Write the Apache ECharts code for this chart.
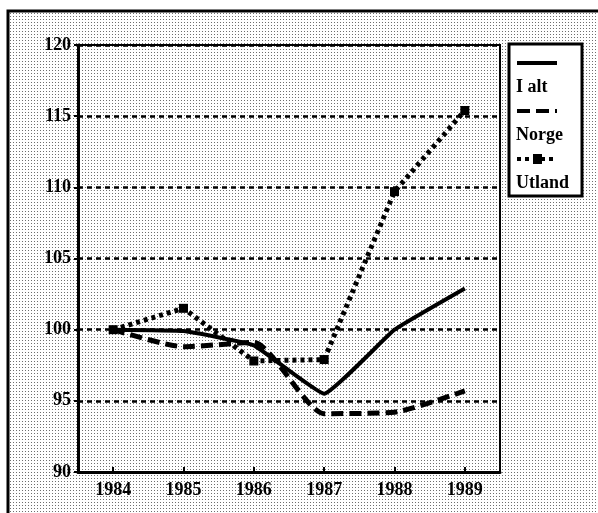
<!DOCTYPE html>
<html>
<head>
<meta charset="utf-8">
<script src="https://cdn.jsdelivr.net/npm/echarts@6/dist/echarts.min.js"></script>
<style>
  html, body { margin: 0; padding: 0; background: #fff; }
  #chart { width: 598px; height: 513px; }
</style>
</head>
<body>
<div id="chart"></div>
<script>
// data
const years = ["1984", "1985", "1986", "1987", "1988", "1989"];
const iAlt = [100, 99.9, 98.9, 95.5, 100, 102.9];
const norge = [100, 98.8, 99.1, 94.1, 94.2, 95.7];
const utland = [100, 101.5, 97.8, 97.9, 109.7, 115.4];
const legendNames = ["I alt", "Norge", "Utland"];

const FONT = "Liberation Serif";

// halftone dot background
const tile = document.createElement("canvas");
tile.width = 3;
tile.height = 3;
const tctx = tile.getContext("2d");
tctx.fillStyle = "#fff";
tctx.fillRect(0, 0, 3, 3);
tctx.fillStyle = "#6e6e6e";
tctx.fillRect(1, 1, 1, 1);

const chart = echarts.init(document.getElementById("chart"));

const legendX = 517;
const legendItems = [];
const lineStyles = [
  { lineWidth: 4, lineDash: null },
  { lineWidth: 4, lineDash: [13, 6] },
  { lineWidth: 4, lineDash: [4, 4] },
];
legendNames.forEach((name, i) => {
  const ly = 63 + i * 48;
  const st = { stroke: "#000", lineWidth: lineStyles[i].lineWidth };
  if (lineStyles[i].lineDash) st.lineDash = lineStyles[i].lineDash;
  legendItems.push({
    type: "line",
    z: 20,
    shape: { x1: legendX, y1: ly, x2: legendX + 40, y2: ly },
    style: st,
  });
  legendItems.push({
    type: "text",
    z: 20,
    x: legendX - 1,
    y: ly + 24,
    style: { text: name, font: "bold 18px " + FONT, fill: "#000", verticalAlign: "middle" },
  });
});
// marker in the Utland legend line
legendItems.push({
  type: "rect",
  z: 20,
  shape: { x: legendX + 16, y: 63 + 96 - 5, width: 9, height: 10 },
  style: { fill: "#000" },
});

const option = {
  backgroundColor: "#fff",
  animation: false,
  grid: {
    left: 78, top: 45, right: 98, bottom: 41,
    show: true,
    borderColor: "#000",
    borderWidth: 2,
    backgroundColor: "transparent",
  },
  graphic: [
    {
      type: "rect",
      z: -10,
      silent: true,
      shape: { x: 8, y: 11, width: 620, height: 540 },
      style: { fill: { image: tile, repeat: "repeat" }, stroke: "#000", lineWidth: 3 },
    },
    {
      type: "rect",
      z: 15,
      shape: { x: 509, y: 44, width: 73, height: 152 },
      style: { fill: "#fff", stroke: "#000", lineWidth: 3 },
    },
  ].concat(legendItems),
  xAxis: {
    type: "category",
    data: years,
    boundaryGap: true,
    axisLine: { lineStyle: { color: "#000", width: 3 } },
    axisTick: { show: true, inside: true, alignWithLabel: true, length: 5, lineStyle: { color: "#000", width: 2 } },
    axisLabel: { color: "#000", fontFamily: FONT, fontSize: 18, fontWeight: "bold", margin: 9 },
    splitLine: { show: false },
  },
  yAxis: {
    type: "value",
    min: 90,
    max: 120,
    interval: 5,
    axisLine: { show: true, lineStyle: { color: "#000", width: 3 } },
    axisTick: { show: true, length: 4, lineStyle: { color: "#000", width: 2 } },
    axisLabel: { color: "#000", fontFamily: FONT, fontSize: 18, fontWeight: "bold", margin: 7 },
    splitLine: { show: true, lineStyle: { color: "#000", width: 2.5, type: [5, 4] } },
  },
  series: [
    {
      name: legendNames[0],
      type: "line",
      data: iAlt,
      smooth: 0.1,
      showSymbol: false,
      lineStyle: { color: "#000", width: 4 },
    },
    {
      name: legendNames[1],
      type: "line",
      data: norge,
      smooth: 0.2,
      showSymbol: false,
      lineStyle: { color: "#000", width: 5, type: [12, 6] },
    },
    {
      name: legendNames[2],
      type: "line",
      data: utland,
      symbol: "rect",
      symbolSize: 9,
      itemStyle: { color: "#000" },
      lineStyle: { color: "#000", width: 5, type: [4, 4] },
    },
  ],
};

chart.setOption(option);
</script>
</body>
</html>
